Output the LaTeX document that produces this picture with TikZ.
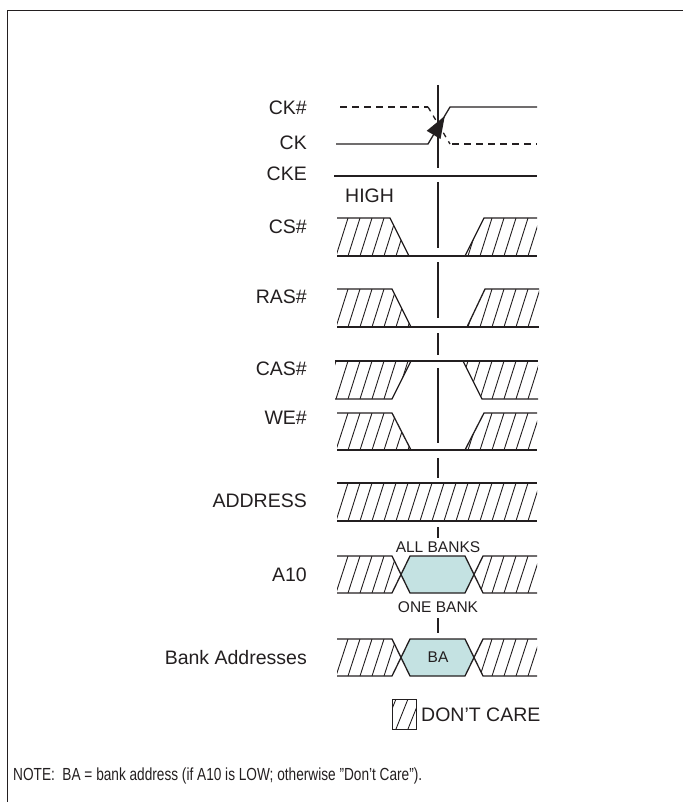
\documentclass[tikz,border=0pt]{standalone}
\usepackage{graphicx}
\usepackage{fontspec}
\setmainfont{Liberation Sans}
\definecolor{hexfill}{RGB}{196,226,226}
\definecolor{ink}{RGB}{35,31,32}
\newcommand\hatchreg[3]{\begin{scope}\clip #1;\foreach \xx in {300,312,...,560}{\draw[hatchline] (\xx,#3) -- (\xx+12,#2);}\end{scope}}
\begin{document}
\begin{tikzpicture}[x=1pt,y=-1pt,
  sig/.style={line width=1.3pt, draw=ink},
  hatchline/.style={line width=0.9pt, draw=ink},
  vline/.style={line width=1.3pt, draw=ink},
  lab/.style={anchor=east, inner sep=0pt, text=ink, font=\fontsize{19.5}{22}\selectfont},
  smalllab/.style={inner sep=0pt, text=ink, font=\fontsize{15.5}{18}\selectfont}]
\useasboundingbox (0,0) rectangle (683,802);
% frame
\draw[line width=1.5pt, draw=ink] (7.5,802) -- (7.5,10.5) -- (683,10.5);
% labels
\node[lab] (lckn) at (307,107.5) {CK\#};
\node[lab] (lck) at (307,142.5) {CK};
\node[lab] (lcke) at (307,173.5) {CKE};
\node[lab] (lcs) at (307,226.5) {CS\#};
\node[lab] (lras) at (307,297) {RAS\#};
\node[lab] (lcas) at (307,369) {CAS\#};
\node[lab] (lwe) at (307,418) {WE\#};
\node[lab] (laddr) at (307,501) {ADDRESS};
\node[lab] (la10) at (307,574.5) {A10};
\node[lab] (lba) at (307,657.5) {Bank Addresses};
\node[anchor=west, inner sep=0pt, text=ink, font=\fontsize{19.5}{22}\selectfont] (high) at (345,195.5) {HIGH};
% center line
\foreach \a/\b in {85/168,182/248,262/318,333/355,368/443,458/478,527/538,618/633}
  \draw[vline] (438,\a) -- (438,\b);
% CK# and CK
\draw[sig, dash pattern=on 7pt off 5pt] (340,107) -- (428,107);
\draw[sig, dash pattern=on 5pt off 5pt] (428,107) -- (450,144);
\draw[sig, dash pattern=on 7pt off 5pt] (452,144) -- (537,144);
\draw[sig] (336,144) -- (428,144) -- (450,107) -- (537,107);
\fill[ink] (444.8,116) -- (426.7,130.8) -- (440.5,139.0) -- cycle;
% CKE
\draw[sig] (334,176) -- (537,176);
% CS#
\hatchreg{(337,218) -- (390,218) -- (409,256) -- (337,256) -- cycle}{218}{256}
\hatchreg{(465,256) -- (484,218) -- (537,218) -- (537,256) -- cycle}{218}{256}
\draw[sig] (337,218) -- (390,218) -- (409,256);
\draw[sig] (337,256) -- (537,256);
\draw[sig] (465,256) -- (484,218) -- (537,218);
% RAS#
\hatchreg{(337,289) -- (392,289) -- (411,327) -- (337,327) -- cycle}{289}{327}
\hatchreg{(467,327) -- (485,289) -- (539,289) -- (539,327) -- cycle}{289}{327}
\draw[sig] (337,289) -- (392,289) -- (411,327);
\draw[sig] (337,327) -- (539,327);
\draw[sig] (467,327) -- (485,289) -- (539,289);
% CAS#
\hatchreg{(335,361) -- (411,361) -- (392,399) -- (335,399) -- cycle}{361}{399}
\hatchreg{(463,361) -- (482,399) -- (538,399) -- (538,361) -- cycle}{361}{399}
\draw[sig] (335,361) -- (538,361);
\draw[sig] (335,399) -- (392,399) -- (411,361);
\draw[sig] (463,361) -- (482,399) -- (538,399);
% WE#
\hatchreg{(337,413) -- (392,413) -- (411,450) -- (337,450) -- cycle}{413}{450}
\hatchreg{(465,450) -- (484,413) -- (537,413) -- (537,450) -- cycle}{413}{450}
\draw[sig] (337,413) -- (392,413) -- (411,450);
\draw[sig] (337,450) -- (537,450);
\draw[sig] (465,450) -- (484,413) -- (537,413);
% ADDRESS
\hatchreg{(337,483) rectangle (537,521)}{483}{521}
\draw[sig] (337,483) -- (537,483);
\draw[sig] (337,521) -- (537,521);
% A10
\fill[hexfill] (401,574.5) -- (410,556) -- (465,556) -- (474,574.5) -- (465,593) -- (410,593) -- cycle;
\hatchreg{(337,556) -- (392,556) -- (401,574.5) -- (392,593) -- (337,593) -- cycle}{556}{593}
\hatchreg{(537,556) -- (483,556) -- (474,574.5) -- (483,593) -- (537,593) -- cycle}{556}{593}
\draw[sig] (337,556) -- (392,556) -- (410,593) -- (465,593) -- (483,556) -- (537,556);
\draw[sig] (337,593) -- (392,593) -- (410,556) -- (465,556) -- (483,593) -- (537,593);
\node[smalllab] (allb) at (438,547.5) {ALL BANKS};
\node[smalllab] (oneb) at (438,607.5) {ONE BANK};
% BA
\fill[hexfill] (401,657.5) -- (410,639) -- (465,639) -- (474,657.5) -- (465,676) -- (410,676) -- cycle;
\hatchreg{(337,639) -- (392,639) -- (401,657.5) -- (392,676) -- (337,676) -- cycle}{639}{676}
\hatchreg{(537,639) -- (483,639) -- (474,657.5) -- (483,676) -- (537,676) -- cycle}{639}{676}
\draw[sig] (337,639) -- (392,639) -- (410,676) -- (465,676) -- (483,639) -- (537,639);
\draw[sig] (337,676) -- (392,676) -- (410,639) -- (465,639) -- (483,676) -- (537,676);
\node[smalllab] (ba) at (438,657.5) {BA};
% legend
\hatchreg{(392,699) rectangle (416,729)}{699}{729}
\draw[hatchline] (392,699) rectangle (416,729);
\node[anchor=west, inner sep=0pt, text=ink, font=\fontsize{19.5}{22}\selectfont] (dc) at (421,714.5) {DON'T CARE};
% note
\node[anchor=west, inner sep=0pt, text=ink, font=\fontsize{17.5}{20}\selectfont] (note) at (13,776) {\scalebox{0.78}[1]{NOTE:\ \ BA = bank address (if A10 is LOW; otherwise \char"22 Don\char"27 t Care\char"22 ).}};
\end{tikzpicture}
\end{document}
